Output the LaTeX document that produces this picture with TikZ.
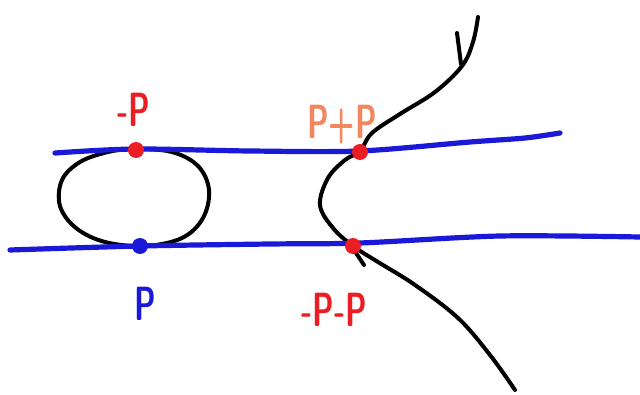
\documentclass[tikz,border=0pt]{standalone}
\usepackage{fontspec}
\definecolor{penblue}{RGB}{25,25,215}
\definecolor{penred}{RGB}{235,30,35}
\definecolor{pensalmon}{RGB}{242,135,95}
\begin{document}
\begin{tikzpicture}[
    x=1pt, y=-1pt,
    bluestroke/.style={penblue, line width=5.2pt, line cap=round},
    curvestroke/.style={black, line width=4pt, line cap=round},
    dot/.style={circle, fill=#1, inner sep=0pt, minimum size=16pt},
    handlabel/.style={font=\sffamily\bfseries\fontsize{48}{50}\selectfont,
        inner sep=0pt, xscale=0.64, transform shape}
]
    \useasboundingbox (0,0) rectangle (640,395);

    % curve: the oval and the open branch
    \draw[curvestroke] plot[smooth cycle, tension=0.6] coordinates {
        (135,149) (172,152) (198,166) (209,190) (203,218) (182,238)
        (145,246) (105,242) (76,228) (60,206) (62,180) (80,162) (108,152)};
    \draw[curvestroke] plot[smooth, tension=0.6] coordinates {
        (515,390) (490,355) (458,318) (415,285) (378,262) (353,246)
        (333,228) (320,205) (328,178) (345,160) (360,151) (372,133)
        (400,114) (435,92) (462,66) (473,42) (478,17)};
    \draw[curvestroke] (457,33) -- (461,64);
    \draw[curvestroke] (350,244) -- (364,265);

    % the two lines
    \draw[bluestroke] plot[smooth, tension=0.5] coordinates {
        (55,153) (135,149) (250,151) (360,151) (470,142) (525,138) (560,133)};
    \draw[bluestroke] plot[smooth, tension=0.5] coordinates {
        (10,250) (140,246) (270,244) (360,243) (500,236) (640,237)};

    % points
    \node[dot=penred] (minusP) at (136,150) {};
    \node[dot=penblue] (P) at (140,246) {};
    \node[dot=penred] (twoP) at (360,152) {};
    \node[dot=penred] (minustwoP) at (353,246) {};

    % labels
    \node[handlabel, penred] (lminusP) at (134,110) {-P};
    \node[handlabel, penblue] (lP) at (145,304) {P};
    \node[handlabel, pensalmon] (ltwoP) at (342,125) {P+P};
    \node[handlabel, penred] (lminustwoP) at (334,310) {-P-P};
\end{tikzpicture}
\end{document}
